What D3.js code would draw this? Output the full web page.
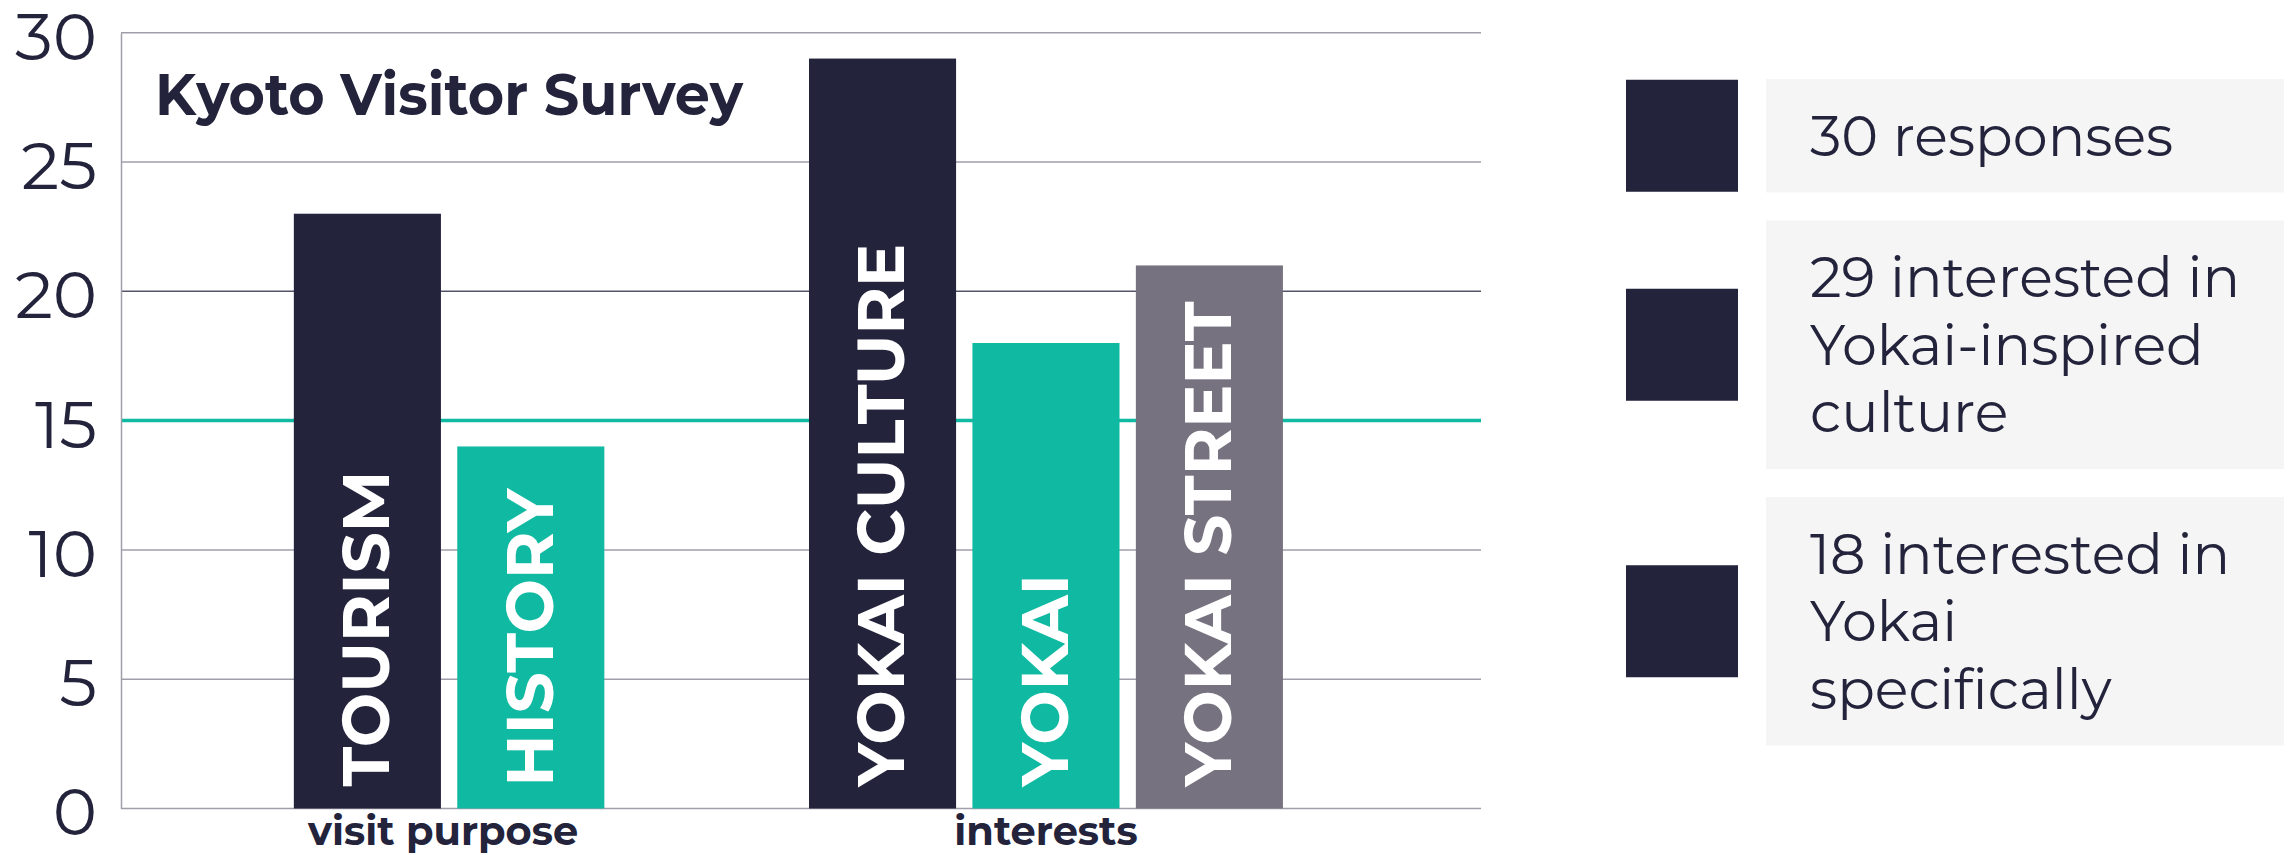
<!DOCTYPE html>
<html>
<head>
<meta charset="utf-8">
<script src="https://cdn.jsdelivr.net/npm/d3@7"></script>
<style>
  body { margin: 0; background: #fff; }
  svg { display: block; }
</style>
</head>
<body>
<div id="chart"></div>
<script>
// data
var title = 'Kyoto Visitor Survey'
var groups = ['visit purpose', 'interests']
var categories = ['TOURISM', 'HISTORY', 'YOKAI CULTURE', 'YOKAI', 'YOKAI STREET']
var categoryGroup = ['visit purpose', 'visit purpose', 'interests', 'interests', 'interests']
var values = [23, 14, 29, 18, 21]
var barColors = ['#23233c', '#10b9a1', '#23233c', '#10b9a1', '#77727f']
var yTicks = [0, 5, 10, 15, 20, 25, 30]
var refLine = 15
var legendItems = [
  ['30 responses'],
  ['29 interested in', 'Yokai-inspired', 'culture'],
  ['18 interested in', 'Yokai', 'specifically']
]

var W = 2288, H = 855
var navy = '#23233c', teal = '#10b9a1', grid = '#a09eab'
var font = 'Montserrat, Inter, sans-serif'
var m = {top: 32.7, left: 121, right: 807, bottom: 46.5}

var svg = d3.select('#chart').append('svg')
  .attr('width', W).attr('height', H)
  .style('font-family', font)

var y = d3.scaleLinear().domain([0, 30]).range([H - m.bottom, m.top])

var outer = d3.scaleBand().domain(groups)
  .range([m.left, W - m.right])
  .paddingInner(0.08).paddingOuter(0.36).align(0.466)

var inner = d3.scaleBand().domain([0, 1, 2])
  .range([0, outer.bandwidth()])
  .paddingInner(0.1)

// the fallback font is narrower than the original one: widen every text of a
// set by the factor that makes one reference text reach its width
function stretch(sel, isRef, target) {
  var k = target / sel.filter(isRef).node().getComputedTextLength()
  var lens = new Map(sel.nodes().map(n => [n, n.getComputedTextLength()]))
  sel.each(function(){
    d3.select(this).attr('textLength', lens.get(this)*k).attr('lengthAdjust', 'spacingAndGlyphs')
  })
}

var bars = categories.map((name, i) => {
  var g = categoryGroup[i]
  var slot = categoryGroup.slice(0, i).filter(d => d == g).length
  return {name, group: g, value: values[i], color: barColors[i], x: outer(g) + inner(slot)}
})

// gridlines
svg.append('g').selectAll('line').data(yTicks).join('line')
  .attr('x1', m.left).attr('x2', W - m.right)
  .attr('y1', d => y(d)).attr('y2', d => y(d))
  .attr('stroke', d => d == refLine ? teal : d == 20 ? '#55556a' : grid)
  .attr('stroke-width', d => d == refLine ? 3.5 : 1.5)

// y axis
var yAxis = svg.append('g')
  .attr('transform', `translate(${m.left},0)`)
  .call(d3.axisLeft(y).tickValues(yTicks).tickSize(0).tickSizeOuter(0).tickPadding(24))
yAxis.select('.domain').attr('stroke', grid).attr('stroke-width', 1.5)
var tickText = yAxis.selectAll('.tick text')
  .attr('fill', navy).attr('font-size', 66).attr('font-family', font)
  .attr('dy', '0.4em')
stretch(tickText, d => d == 30, 82)

// bars
svg.append('g').selectAll('rect').data(bars).join('rect')
  .attr('x', d => d.x)
  .attr('width', inner.bandwidth())
  .attr('y', d => y(d.value))
  .attr('height', d => y(0) - y(d.value))
  .attr('fill', d => d.color)

var barText = svg.append('g').selectAll('text').data(bars).join('text')
  .attr('transform', d => `translate(${d.x + inner.bandwidth()/2},${y(0) - 22}) rotate(-90)`)
  .attr('dy', '0.33em')
  .attr('fill', '#fff')
  .attr('font-weight', 700)
  .attr('font-size', 66)
  .text(d => d.name)
stretch(barText, d => d.name == 'TOURISM', 316)

// group labels
var groupText = svg.append('g').selectAll('text').data(groups).join('text')
  .attr('x', g => d3.mean(bars.filter(d => d.group == g), d => d.x + inner.bandwidth()/2) - (g == groups[0] ? 6 : 0))
  .attr('y', 845)
  .attr('text-anchor', 'middle')
  .attr('fill', navy)
  .attr('font-weight', 700)
  .attr('font-size', 40)
  .text(d => d)
stretch(groupText, d => d == 'visit purpose', 270)

// title
var titleText = svg.append('text')
  .attr('x', 155).attr('y', 115)
  .attr('fill', navy)
  .attr('font-weight', 700)
  .attr('font-size', 58)
  .text(title)
stretch(titleText, () => true, 588)

// legend
var lineH = 67.5, boxPad = 46, gap = 28
var legendY = []
legendItems.reduce((acc, lines) => {
  legendY.push(acc)
  return acc + lines.length*lineH + boxPad + gap
}, 79)

var legend = svg.append('g').selectAll('g').data(legendItems).join('g')
  .attr('transform', (d, i) => `translate(0,${legendY[i]})`)

legend.append('rect')
  .attr('x', 1766).attr('width', W - 4 - 1766)
  .attr('height', d => d.length*lineH + boxPad)
  .attr('fill', '#f5f5f5')

legend.append('rect')
  .attr('x', 1626).attr('width', 112).attr('height', 112)
  .attr('y', d => (d.length*lineH + boxPad)/2 - 56)
  .attr('fill', navy)

var legendText = legend.selectAll('text').data(d => d.map((t, i) => ({t, i, n: d.length})))
  .join('text')
  .attr('x', 1810)
  .attr('y', d => (d.n*lineH + boxPad)/2 + (d.i - (d.n - 1)/2)*lineH + 20)
  .attr('fill', navy)
  .attr('font-size', 57)
  .text(d => d.t)
stretch(legendText, d => d.t == '29 interested in', 430)
</script>
</body>
</html>
